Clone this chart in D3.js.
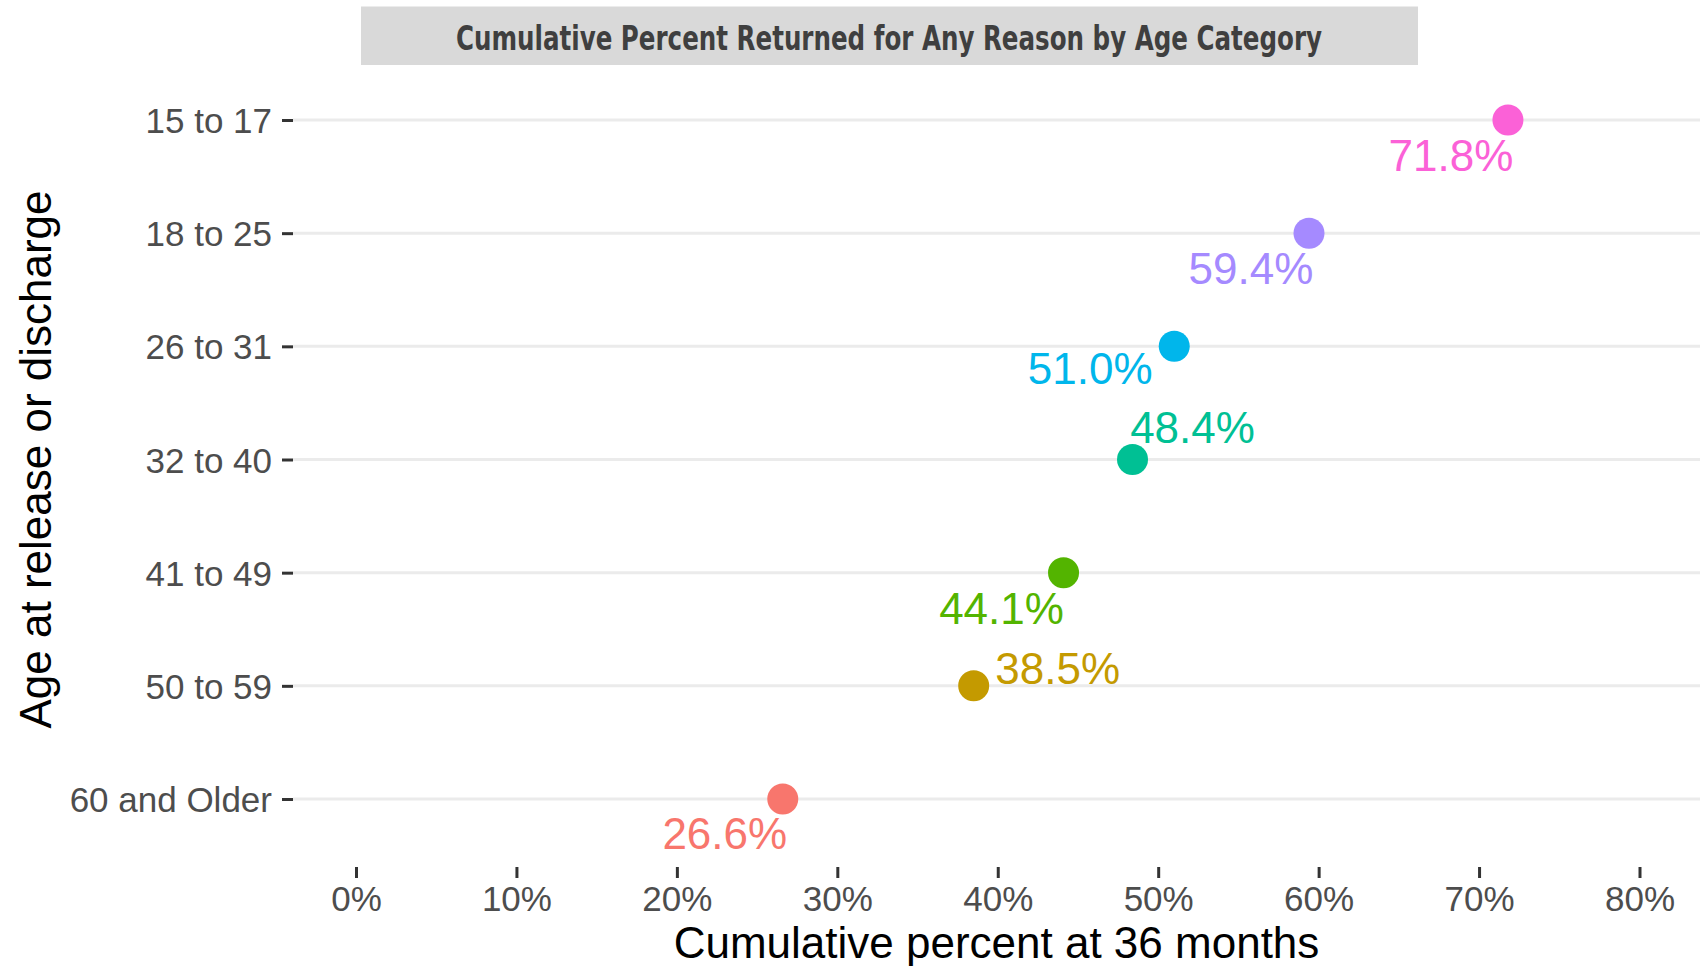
<!DOCTYPE html>
<html>
<head>
<meta charset="utf-8">
<script src="https://cdn.jsdelivr.net/npm/d3@7"></script>
<style>
  body { margin: 0; background: #fff; }
  svg { display: block; font-family: "Liberation Sans", Arial, sans-serif; }
</style>
</head>
<body>
<svg id="chart" width="1700" height="966"></svg>
<script>
// data, bottom to top as in the picture
var ageGroups = ["60 and Older", "50 to 59", "41 to 49", "32 to 40", "26 to 31", "18 to 25", "15 to 17"];
var pctReturned = [26.6, 38.5, 44.1, 48.4, 51.0, 59.4, 71.8];
var groupColors = ["#F8766D", "#C49A00", "#53B400", "#00C094", "#00B6EB", "#A58AFF", "#FB61D7"];
var xTicks = [0, 10, 20, 30, 40, 50, 60, 70, 80];
// label offsets from each point (px), repel style
var labelNudge = [[-58, 34], [84, -18], [-62, 35], [60, -32], [-84, 22], [-58, 35], [-57, 35]];

var svg = d3.select("#chart"),
    panel = {left: 293, right: 1700, top: 52, bottom: 867};

var xScale = d3.scaleLinear().domain([0, 80]).range([356, 1639.5]);
var yScale = d3.scalePoint().domain(ageGroups.slice().reverse())
    .range([120, 799]);

var data = ageGroups.map(function(g, i) {
  return {group: g, value: pctReturned[i], color: groupColors[i], nudge: labelNudge[i]};
});

// title box
svg.append("rect")
    .attr("x", 361).attr("y", 6.5)
    .attr("width", 1057).attr("height", 58.5)
    .attr("fill", "#D9D9D9");
svg.append("text")
    .attr("x", 889).attr("y", 50)
    .attr("text-anchor", "middle")
    .attr("textLength", 866)
    .attr("lengthAdjust", "spacingAndGlyphs")
    .style("font-family", "'Liberation Sans Narrow', 'DejaVu Sans Condensed', 'Liberation Sans', sans-serif")
    .style("font-weight", "bold")
    .style("font-size", "34px")
    .attr("fill", "#3F3F3F")
    .text("Cumulative Percent Returned for Any Reason by Age Category");

// gridlines
svg.append("g").selectAll("line")
    .data(yScale.domain())
  .enter().append("line")
    .attr("x1", panel.left).attr("x2", panel.right)
    .attr("y1", function(d) { return yScale(d); })
    .attr("y2", function(d) { return yScale(d); })
    .attr("stroke", "#EBEBEB")
    .attr("stroke-width", 3);

// y axis
var yAxis = d3.axisLeft(yScale).tickSize(11).tickPadding(10);
var gy = svg.append("g")
    .attr("transform", "translate(" + panel.left + ",0)")
    .call(yAxis);
gy.select(".domain").remove();
gy.selectAll(".tick line").attr("stroke", "#333333").attr("stroke-width", 3);
gy.selectAll(".tick text")
    .attr("fill", "#4D4D4D")
    .style("font-size", "35px")
    .style("font-family", "'Liberation Sans', Arial, sans-serif")
    .attr("dy", "0.36em");

// x axis
var xAxis = d3.axisBottom(xScale).tickValues(xTicks)
    .tickFormat(function(d) { return d + "%"; })
    .tickSize(11).tickPadding(8);
var gx = svg.append("g")
    .attr("transform", "translate(0," + panel.bottom + ")")
    .call(xAxis);
gx.select(".domain").remove();
gx.selectAll(".tick line").attr("stroke", "#333333").attr("stroke-width", 3);
gx.selectAll(".tick text")
    .attr("fill", "#4D4D4D")
    .style("font-size", "35px")
    .style("font-family", "'Liberation Sans', Arial, sans-serif")
    .attr("dy", "0.71em");

// axis titles
svg.append("text")
    .attr("x", (panel.left + panel.right) / 2).attr("y", 958)
    .attr("text-anchor", "middle")
    .style("font-size", "44px")
    .attr("fill", "#000")
    .text("Cumulative percent at 36 months");

svg.append("text")
    .attr("transform", "translate(51," + ((yScale.range()[0] + yScale.range()[1]) / 2) + ") rotate(-90)")
    .attr("text-anchor", "middle")
    .style("font-size", "44px")
    .attr("fill", "#000")
    .text("Age at release or discharge");

// points
svg.append("g").selectAll("circle")
    .data(data)
  .enter().append("circle")
    .attr("cx", function(d) { return xScale(d.value); })
    .attr("cy", function(d) { return yScale(d.group); })
    .attr("r", 15.5)
    .attr("fill", function(d) { return d.color; });

// value labels
svg.append("g").selectAll("text")
    .data(data)
  .enter().append("text")
    .attr("x", function(d) { return xScale(d.value) + d.nudge[0]; })
    .attr("y", function(d) { return yScale(d.group) + d.nudge[1]; })
    .attr("dy", "0.36em")
    .attr("text-anchor", "middle")
    .style("font-size", "44px")
    .attr("fill", function(d) { return d.color; })
    .text(function(d) { return d.value.toFixed(1) + "%"; });
</script>
</body>
</html>
